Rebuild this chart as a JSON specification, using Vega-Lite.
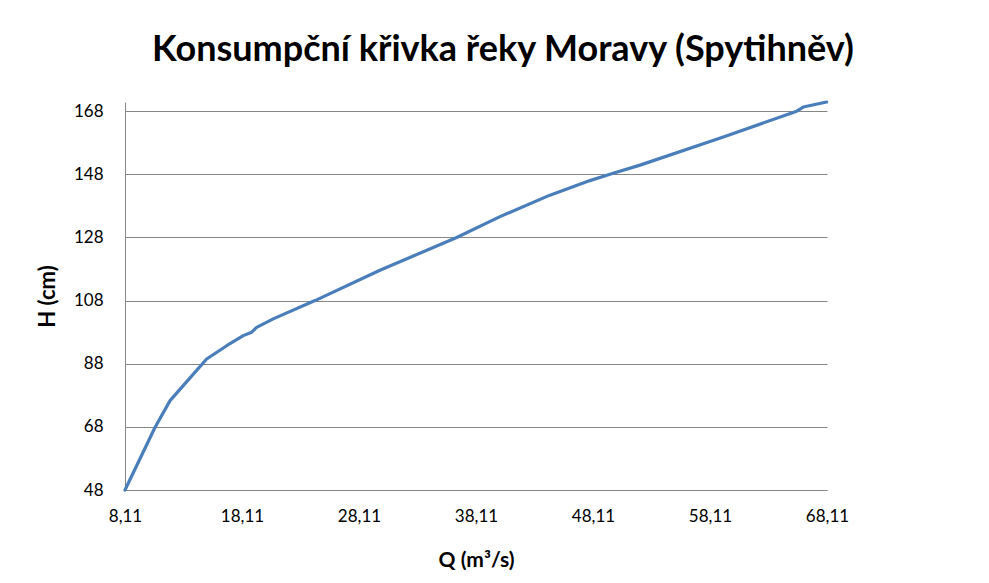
{
  "$schema": "https://vega.github.io/schema/vega-lite/v6.json",
  "width": 702,
  "height": 388,
  "autosize": "none",
  "padding": {"left": 125, "top": 102, "right": 162, "bottom": 93},
  "background": "white",
  "title": {
    "text": "Konsumpční křivka řeky Moravy (Spytihněv)",
    "font": "Lato",
    "fontSize": 36,
    "fontWeight": "bold",
    "color": "#000000",
    "anchor": "middle",
    "frame": "group",
    "baseline": "alphabetic",
    "offset": 3,
    "dx": 27
  },
  "data": {
    "values": [
      {"Q": 8.11, "H": 48},
      {"Q": 10.67, "H": 67.8},
      {"Q": 11.96, "H": 76.3},
      {"Q": 13.5, "H": 82.8},
      {"Q": 15.09, "H": 89.5},
      {"Q": 16.8, "H": 93.7},
      {"Q": 18.22, "H": 96.9},
      {"Q": 18.94, "H": 98.0},
      {"Q": 19.36, "H": 99.5},
      {"Q": 20.78, "H": 102.2},
      {"Q": 24.35, "H": 108},
      {"Q": 29.9, "H": 117.6},
      {"Q": 36.46, "H": 128},
      {"Q": 40.16, "H": 134.6},
      {"Q": 44.43, "H": 141.4},
      {"Q": 47.85, "H": 146.0},
      {"Q": 49.56, "H": 148},
      {"Q": 52.13, "H": 150.9},
      {"Q": 59.25, "H": 159.8},
      {"Q": 65.52, "H": 168},
      {"Q": 66.08, "H": 169.3},
      {"Q": 68.08, "H": 170.9}
    ]
  },
  "mark": {"type": "line", "color": "#4A7EBB", "strokeWidth": 3.2, "strokeJoin": "round", "strokeCap": "round"},
  "encoding": {
    "x": {
      "field": "Q",
      "type": "quantitative",
      "scale": {"domain": [8.11, 68.11], "nice": false, "zero": false},
      "axis": {
        "title": "Q (m³/s)",
        "values": [8.11, 18.11, 28.11, 38.11, 48.11, 58.11, 68.11],
        "labelExpr": "replace(format(datum.value, '.2f'), '.', ',')",
        "grid": false,
        "ticks": false,
        "domainColor": "#868686",
        "labelPadding": 18,
        "labelFont": "Lato",
        "labelFontSize": 17,
        "labelColor": "#000000",
        "labelFlush": false,
        "labelOverlap": false,
        "titleFont": "Lato",
        "titleFontSize": 21,
        "titleFontWeight": "bold",
        "titleColor": "#000000",
        "titleBaseline": "middle",
        "titleX": 351,
        "titleY": 70
      }
    },
    "y": {
      "field": "H",
      "type": "quantitative",
      "scale": {"domain": [48, 170.9], "nice": false, "zero": false},
      "axis": {
        "title": "H (cm)",
        "values": [48, 68, 88, 108, 128, 148, 168],
        "grid": true,
        "gridColor": "#868686",
        "gridWidth": 1,
        "ticks": false,
        "domainColor": "#868686",
        "labelPadding": 22,
        "labelFont": "Lato",
        "labelFontSize": 17,
        "labelColor": "#000000",
        "labelOverlap": false,
        "labelFlush": false,
        "titleFont": "Lato",
        "titleFontSize": 22,
        "titleFontWeight": "bold",
        "titleColor": "#000000",
        "titleAngle": -90,
        "titleBaseline": "middle",
        "titleX": -78,
        "titleY": 194
      }
    }
  },
  "config": {"view": {"stroke": null}}
}
